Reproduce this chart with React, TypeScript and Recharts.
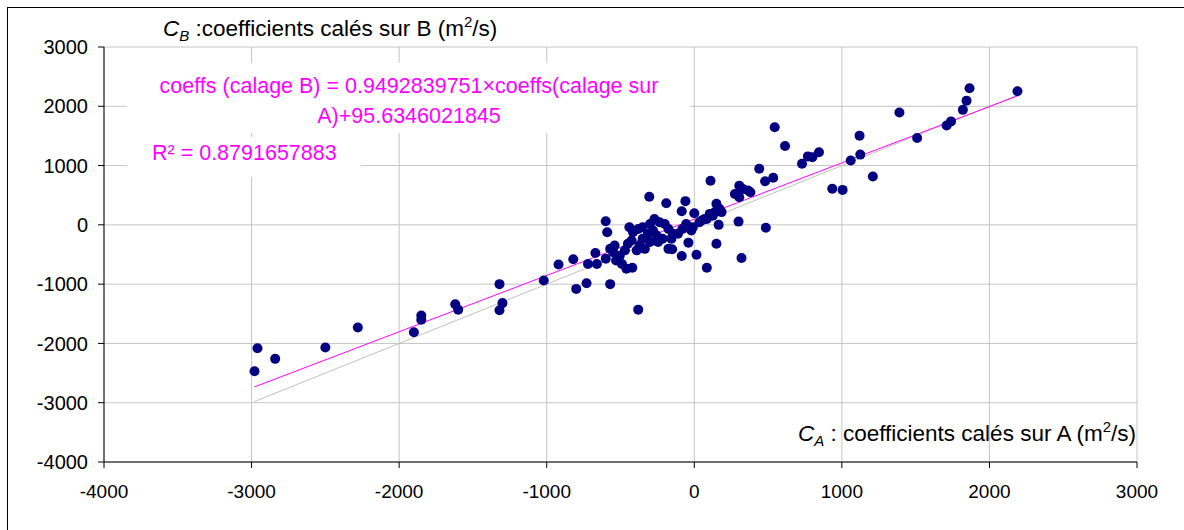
import React from "react"
import { CartesianGrid, ReferenceLine, Scatter, ScatterChart, XAxis, YAxis } from "recharts"

// coefficients fitted on A (x) and on B (y), m²/s
const calageA = [
  -2960, -2840, -2980, -2500, -2280, -1900, -1850, -1850, -1620, -1600,
  -1320, -1300, -1320, -1020, -920, -820, -800, -730, -720, -660,
  -600, -570, -670, -600, -590, -380, -440, -570, -540, -550,
  -530, -490, -460, -420, -505, -470, -450, -425, -390, -370,
  -335, -350, -300, -315, -280, -245, -255, -215, -415, -380,
  -350, -300, -270, -235, -200, -175, -145, -155, -110, -80,
  -55, -20, -10, 35, 85, 125, 185, -175, -150, -305,
  -190, -60, -85, 0, 150, 165, 150, 85, 15, -85,
  -40, 170, 140, 105, 70, 50, 300, 485, 320, 110,
  275, 305, 305, 330, 365, 380, 440, 480, 535, 545,
  615, 730, 770, 800, 845, 935, 1005, 1060, 1120, 1125,
  1210, 1390, 1510, 1710, 1740, 1820, 1845, 1865, 2190,
]
const calageB = [
  -2080, -2260, -2470, -2070, -1730, -1810, -1530, -1600, -1340, -1430,
  -1000, -1320, -1440, -940, -670, -580, -1080, -985, -660, -660,
  -570, -1000, -475, 60, -125, -1430, -40, -405, -350, -460,
  -600, -660, -740, -725, -520, -430, -320, -265, -430, -350,
  -405, -235, -290, -150, -95, -290, -180, -235, -125, -70,
  -40, 15, 100, 45, 15, -70, -150, -235, -150, -70,
  15, -95, -40, 45, 100, 155, 215, -405, -410, 475,
  365, 400, 230, 195, 355, 0, -320, -725, -505, -525,
  -300, 270, 215, 185, 100, 75, 55, -50, -560, 745,
  520, 465, 660, 605, 580, 550, 945, 735, 795, 1645,
  1330, 1030, 1155, 1140, 1225, 610, 590, 1085, 1505, 1185,
  815, 1895, 1465, 1675, 1745, 1940, 2095, 2305, 2255,
]
const ticksA = [-4000, -3000, -2000, -1000, 0, 1000, 2000, 3000]
const ticksB = [-4000, -3000, -2000, -1000, 0, 1000, 2000, 3000]

// linear fit shown on the chart
const slope = 0.9492839751
const intercept = 95.6346021845
const r2 = 0.8791657883

const points = calageA.map((a, i) => ({ a, b: calageB[i] }))
const minA = Math.min(...calageA)
const maxA = Math.max(...calageA)

const font = "'Liberation Sans', Arial, sans-serif"
const xTick = { fontSize: 19, fill: "#000", fontFamily: font }
const yTick = { fontSize: 20, fill: "#000", fontFamily: font }
const fs = 21.5
const titleFs = 22.5

function Dot(props: any) {
  return <circle cx={props.cx} cy={props.cy} r={5} fill="#000080" />
}

export default function App() {
  return (
    <div style={{ position: "absolute", left: 0, top: 0, width: 1184, height: 530, overflow: "hidden", background: "#fff" }}>
      <div style={{ position: "absolute", left: 7, top: 7, width: 1300, height: 700, borderTop: "1px solid #000", borderLeft: "1px solid #000" }} />
      <div style={{ position: "absolute", left: 0, top: 0 }}>
        <ScatterChart width={1184} height={530} margin={{ top: 47, right: 47, bottom: 28, left: 44 }}>
          <CartesianGrid stroke="#c4c4c4" />
          <XAxis
            type="number"
            dataKey="a"
            domain={[-4000, 3000]}
            ticks={ticksA}
            height={40}
            tick={xTick}
            tickSize={6}
            tickMargin={17}
            stroke="#000"
            allowDataOverflow
          />
          <YAxis
            type="number"
            dataKey="b"
            domain={[-4000, 3000]}
            ticks={ticksB}
            width={60}
            tick={yTick}
            tickSize={6}
            tickMargin={10}
            stroke="#000"
            allowDataOverflow
          />
          <ReferenceLine
            segment={[{ x: minA, y: minA }, { x: maxA, y: maxA }]}
            stroke="#c0c0c0"
            strokeWidth={1}
          />
          <ReferenceLine
            segment={[
              { x: minA, y: slope * minA + intercept },
              { x: maxA, y: slope * maxA + intercept },
            ]}
            stroke="#ff00ff"
            strokeWidth={1}
          />
          <Scatter data={points} shape={<Dot />} isAnimationActive={false} />
        </ScatterChart>
      </div>
      <svg width={1184} height={530} style={{ position: "absolute", left: 0, top: 0, pointerEvents: "none" }} fontFamily={font}>
        <rect x={127} y={63} width={563} height={70} fill="#fff" />
        <rect x={127} y={137} width={234} height={40} fill="#fff" />
        <text x={163} y={36} fontSize={titleFs} fill="#000">
          <tspan fontStyle="italic">C</tspan>
          <tspan fontStyle="italic" fontSize={15} dy={5}>B</tspan>
          <tspan dy={-5}> :coefficients calés sur B (m</tspan>
          <tspan fontSize={15} dy={-9}>2</tspan>
          <tspan dy={9}>/s)</tspan>
        </text>
        <text x={409} y={93} fontSize={fs} fill="#ff00ff" textAnchor="middle">
          {`coeffs (calage B) = ${slope}×coeffs(calage sur`}
        </text>
        <text x={409} y={123} fontSize={fs} fill="#ff00ff" textAnchor="middle">
          {`A)+${intercept}`}
        </text>
        <text x={152} y={160} fontSize={fs} fill="#ff00ff">
          {`R² = ${r2}`}
        </text>
        <text x={1136} y={441} fontSize={titleFs} fill="#000" textAnchor="end">
          <tspan fontStyle="italic">C</tspan>
          <tspan fontStyle="italic" fontSize={15} dy={5}>A</tspan>
          <tspan dy={-5}> : coefficients calés sur A (m</tspan>
          <tspan fontSize={15} dy={-9}>2</tspan>
          <tspan dy={9}>/s)</tspan>
        </text>
      </svg>
    </div>
  )
}
